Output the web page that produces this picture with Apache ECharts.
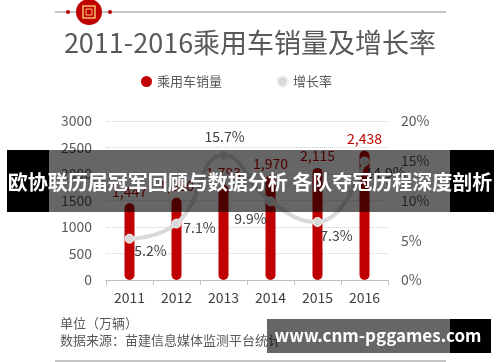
<!DOCTYPE html>
<html><head><meta charset="utf-8">
<script src="https://cdn.jsdelivr.net/npm/echarts@6/dist/echarts.min.js"></script>
<style>html,body{margin:0;padding:0;background:#fff}#c{width:500px;height:362px}</style>
</head><body><div id="c"></div>
<script>
const years = ['2011','2012','2013','2014','2015','2016'];
const sales = [1447, 1550, 1793, 1970, 2115, 2438];
const growth = [5.2, 7.1, 15.7, 9.9, 7.3, 14.9];
const leftTicks = [0, 3000, 500];
const rightTicks = [0, 20, 5];

const FONT = '"Noto Sans CJK SC", "Noto Sans", sans-serif';
const growthOffsets = [[21,12],[23,4],[1,-18],[-20,17],[19,14],[21,11]];

const chart = echarts.init(document.getElementById('c'));
chart.setOption({
  backgroundColor: '#fff',
  animation: false,
  textStyle: { fontFamily: FONT },
  title: {
    text: '2011-2016乘用车销量及增长率',
    left: 'center', top: 24,
    textStyle: { fontSize: 27, color: '#595959', fontWeight: 'normal', fontFamily: FONT }
  },
  legend: {
    left: 136, top: 70, icon: 'circle', itemWidth: 11, itemHeight: 11, itemGap: 54,
    textStyle: { fontSize: 13, color: '#595959', fontFamily: FONT }
  },
  grid: { left: 106, right: 112, top: 121, bottom: 82 },
  xAxis: {
    type: 'category', data: years,
    axisLine: { lineStyle: { color: '#bfbfbf' } },
    axisTick: { show: true, lineStyle: { color: '#bfbfbf' } },
    axisLabel: { color: '#404040', fontSize: 14, margin: 11, fontFamily: FONT }
  },
  yAxis: [{
    type: 'value', min: leftTicks[0], max: leftTicks[1], interval: leftTicks[2],
    axisLine: { show: false }, axisTick: { show: false },
    axisLabel: { color: '#595959', fontSize: 14, margin: 14, fontFamily: FONT, formatter: v => String(v) },
    splitLine: { lineStyle: { color: '#cfcfcf', type: 'dotted' } }
  }, {
    type: 'value', min: rightTicks[0], max: rightTicks[1], interval: rightTicks[2],
    axisLine: { show: false }, axisTick: { show: false },
    axisLabel: { color: '#595959', fontSize: 14, margin: 13, formatter: '{value}%', fontFamily: FONT },
    splitLine: { show: false }
  }],
  series: [{
    name: '乘用车销量', type: 'bar', data: sales, barWidth: 10,
    itemStyle: { color: '#c00000', borderRadius: 5 },
    label: {
      show: true, position: 'top', distance: 5, color: '#c00000', fontSize: 14, fontFamily: FONT,
      formatter: p => p.value.toLocaleString('en-US')
    },
    z: 2
  }, {
    name: '增长率', type: 'line', yAxisIndex: 1, smooth: true,
    data: growth.map((v, i) => ({
      value: v,
      label: { show: true, position: 'inside', offset: growthOffsets[i] }
    })),
    symbol: 'circle', symbolSize: 9,
    lineStyle: { color: '#d9d9d9', width: 4 },
    itemStyle: { color: '#d9d9d9', borderColor: '#f4f4f4', borderWidth: 1 },
    label: { color: '#404040', fontSize: 14, fontFamily: FONT, formatter: '{c}%' },
    z: 3
  }],
  graphic: [
    { type: 'line', z: 1, shape: { x1: 55, y1: 12, x2: 446, y2: 12 }, style: { stroke: '#8c8c8c', lineWidth: 1 } },
    { type: 'circle', z: 2, shape: { cx: 68, cy: 12, r: 2 }, style: { fill: '#c00000' } },
    { type: 'circle', z: 2, shape: { cx: 110, cy: 12, r: 2 }, style: { fill: '#c00000' } },
    { type: 'circle', z: 2, shape: { cx: 89, cy: 12, r: 13 }, style: { fill: '#c00000' } },
    { type: 'rect', z: 3, shape: { x: 83, y: 6, width: 12, height: 12 }, style: { fill: 'none', stroke: '#f2c36b', lineWidth: 1.5 } },
    { type: 'rect', z: 3, shape: { x: 86, y: 9, width: 6, height: 6 }, style: { fill: 'none', stroke: '#f2c36b', lineWidth: 1 } },
    { type: 'text', z: 1, left: 60, top: 317, style: { text: '单位（万辆）', fill: '#595959', font: '13px ' + FONT } },
    { type: 'text', z: 1, left: 60, top: 334, style: { text: '数据来源：苗建信息媒体监测平台统计', fill: '#595959', font: '13px ' + FONT } },
    { type: 'line', z: 1, shape: { x1: 55, y1: 361, x2: 446, y2: 361 }, style: { stroke: '#8c8c8c', lineWidth: 1 } },
    // overlay banner
    { type: 'rect', z: 100, shape: { x: 7, y: 150, width: 42, height: 62 }, style: { fill: '#000' } },
    { type: 'rect', z: 100, shape: { x: 450, y: 150, width: 44, height: 62 }, style: { fill: '#000' } },
    { type: 'rect', z: 100, shape: { x: 49, y: 150, width: 401, height: 62 }, style: { fill: 'rgba(0,0,0,0.6)' } },
    { type: 'text', z: 101, x: 250, y: 182, style: { text: '欧协联历届冠军回顾与数据分析 各队夺冠历程深度剖析', fill: '#fff', font: 'bold 20px ' + FONT, textAlign: 'center', textVerticalAlign: 'middle' } },
    // watermark
    { type: 'rect', z: 100, shape: { x: 267, y: 319, width: 183, height: 34 }, style: { fill: 'rgba(0,0,0,0.6)' } },
    { type: 'rect', z: 100, shape: { x: 450, y: 319, width: 41, height: 34 }, style: { fill: '#000' } },
    { type: 'text', z: 101, x: 378, y: 336, style: { text: 'www.cnm-pggames.com', fill: '#fff', font: 'bold 17px ' + FONT, textAlign: 'center', textVerticalAlign: 'middle' } }
  ]
});
</script></body></html>
